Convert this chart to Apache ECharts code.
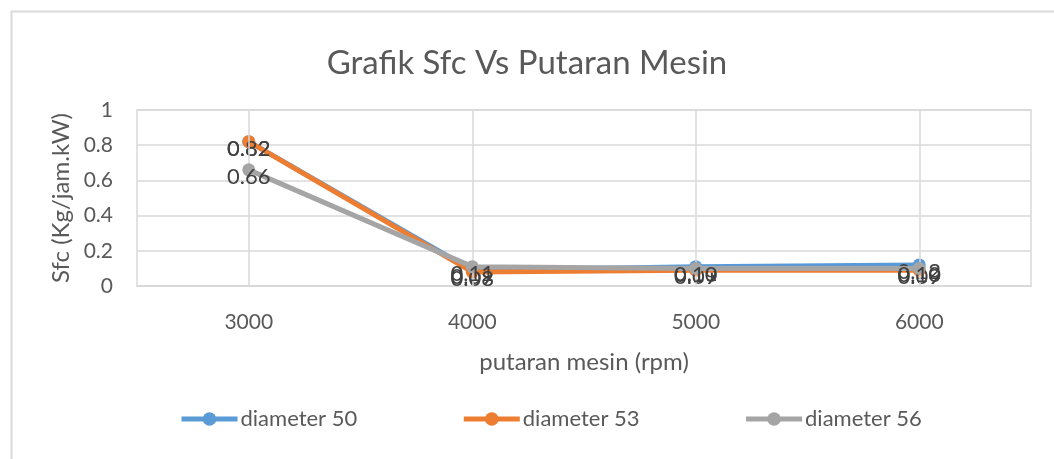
<!DOCTYPE html>
<html>
<head>
<meta charset="utf-8">
<script src="https://cdn.jsdelivr.net/npm/echarts@6/dist/echarts.min.js"></script>
<style>html,body{margin:0;padding:0;background:#fff}#c{width:1054px;height:459px}</style>
</head>
<body>
<div id="c"></div>
<script>
const categories = ['3000', '4000', '5000', '6000'];
const diameter50 = [0.82, 0.09, 0.11, 0.12];
const diameter53 = [0.82, 0.08, 0.09, 0.09];
const diameter56 = [0.66, 0.11, 0.10, 0.10];
const seriesNames = ['diameter 50', 'diameter 53', 'diameter 56'];
const colors = ['#5b9bd5', '#ed7d31', '#a5a5a5'];
const FONT = 'Lato';

const chart = echarts.init(document.getElementById('c'));
function mk(name, data, color, z, withGrid) {
  const s = {
    name, type: 'line', data, z,
    symbol: 'circle', symbolSize: 13,
    lineStyle: {width: 5, color},
    itemStyle: {color},
    label: {show: true, position: 'inside', offset: [0, 7], color: '#404040', fontSize: 22, fontFamily: FONT,
      formatter: p => p.value.toFixed(2)},
    animation: false
  };
  if (withGrid) {
    s.markLine = {silent: true, symbol: 'none', label: {show: false},
      lineStyle: {color: '#d9d9d9', width: 1.5, type: 'solid'},
      data: categories.map(c => ({xAxis: c}))};
  }
  return s;
}
chart.setOption({
  animation: false,
  textStyle: {fontFamily: FONT},
  graphic: [{type: 'rect', left: 9, top: 9, shape: {width: 1100, height: 500},
    style: {fill: 'none', stroke: '#d9d9d9', lineWidth: 2}, z: -1}],
  title: {text: 'Grafik Sfc Vs Putaran Mesin', left: 'center', top: 42,
    textStyle: {fontSize: 33, fontWeight: 'normal', color: '#595959', fontFamily: FONT}},
  grid: {left: 137, right: 23, top: 110, bottom: 173, show: true, borderColor: '#d9d9d9', borderWidth: 1.5},
  legend: {bottom: 24, left: 174, itemGap: 104, itemWidth: 56, itemHeight: 17,
    lineStyle: {width: 5},
    textStyle: {fontSize: 22, color: '#595959', fontFamily: FONT, padding: [0, 0, 0, -2]},
    data: seriesNames},
  xAxis: {type: 'category', data: categories, boundaryGap: true,
    name: 'putaran mesin (rpm)', nameLocation: 'middle', nameGap: 64,
    nameTextStyle: {fontSize: 24, color: '#595959', fontFamily: FONT},
    axisLine: {lineStyle: {color: '#d9d9d9', width: 1.5}},
    axisTick: {show: false},
    axisLabel: {fontSize: 21, color: '#595959', margin: 26, fontFamily: FONT},
    splitLine: {show: false}},
  yAxis: {type: 'value', min: 0, max: 1, interval: 0.2,
    name: 'Sfc (Kg/jam.kW)', nameLocation: 'middle', nameGap: 58,
    nameTextStyle: {fontSize: 24, color: '#595959', fontFamily: FONT},
    axisLine: {show: false}, axisTick: {show: false},
    axisLabel: {fontSize: 21, color: '#595959', margin: 24, fontFamily: FONT,
      formatter: v => String(Math.round(v * 10) / 10)},
    splitLine: {lineStyle: {color: '#d9d9d9', width: 1.5}}},
  series: [
    mk(seriesNames[0], diameter50, colors[0], 3, true),
    mk(seriesNames[1], diameter53, colors[1], 4, false),
    mk(seriesNames[2], diameter56, colors[2], 5, false)
  ]
});
</script>
</body>
</html>
